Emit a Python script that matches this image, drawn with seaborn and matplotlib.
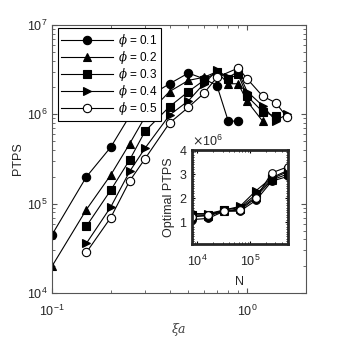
import matplotlib
matplotlib.use('Agg')
import matplotlib.pyplot as plt
import seaborn as sns
import pandas as pd
from matplotlib.ticker import LogLocator, NullFormatter, FixedLocator

# ---- data ----
phi_labels = ['0.1', '0.2', '0.3', '0.4', '0.5']
markers = ['o', '^', 's', '>', 'o']
faces = ['k', 'k', 'k', 'k', 'w']

xi_01 = [0.1, 0.15, 0.2, 0.25, 0.3, 0.4, 0.5, 0.6, 0.7, 0.8, 0.9]
ptps_01 = [4.5e4, 2.0e5, 4.3e5, 9.6e5, 1.5e6, 2.2e6, 2.9e6, 2.5e6, 2.1e6, 8.4e5, 8.4e5]

xi_02 = [0.1, 0.15, 0.2, 0.25, 0.3, 0.4, 0.5, 0.6, 0.7, 0.8, 0.9, 1.0, 1.2]
ptps_02 = [2.0e4, 8.6e4, 2.1e5, 4.7e5, 9.4e5, 1.8e6, 2.4e6, 2.6e6, 3.0e6, 2.2e6, 2.2e6, 1.4e6, 8.4e5]

xi_03 = [0.15, 0.2, 0.25, 0.3, 0.4, 0.5, 0.6, 0.7, 0.8, 0.9, 1.0, 1.2, 1.4]
ptps_03 = [5.6e4, 1.42e5, 3.1e5, 6.5e5, 1.22e6, 1.8e6, 2.4e6, 3.0e6, 2.5e6, 2.8e6, 1.6e6, 1.07e6, 9.5e5]

xi_04 = [0.15, 0.2, 0.25, 0.3, 0.4, 0.5, 0.6, 0.7, 0.8, 0.9, 1.0, 1.2, 1.4, 1.6]
ptps_04 = [3.6e4, 9.2e4, 2.3e5, 4.2e5, 9.8e5, 1.42e6, 2.2e6, 3.1e6, 2.6e6, 3.0e6, 1.8e6, 1.25e6, 8.5e5, 1.0e6]

xi_05 = [0.15, 0.2, 0.25, 0.3, 0.4, 0.5, 0.6, 0.7, 0.9, 1.0, 1.2, 1.4, 1.6]
ptps_05 = [2.85e4, 7.0e4, 1.8e5, 3.2e5, 8.0e5, 1.2e6, 1.72e6, 2.6e6, 3.3e6, 2.5e6, 1.6e6, 1.35e6, 9.3e5]

N = [8e3, 1.6e4, 3.2e4, 6.4e4, 1.28e5, 2.56e5, 5.12e5]
opt_01 = [1.1e6, 1.15e6, 1.45e6, 1.45e6, 1.9e6, 2.7e6, 2.9e6]
opt_02 = [1.25e6, 1.25e6, 1.45e6, 1.55e6, 2.05e6, 2.75e6, 3.0e6]
opt_03 = [1.3e6, 1.3e6, 1.5e6, 1.6e6, 2.15e6, 2.8e6, 3.1e6]
opt_04 = [1.35e6, 1.35e6, 1.5e6, 1.65e6, 2.3e6, 2.85e6, 3.15e6]
opt_05 = [1.2e6, 1.3e6, 1.45e6, 1.5e6, 2.0e6, 3.05e6, 3.3e6]

xis = [xi_01, xi_02, xi_03, xi_04, xi_05]
ptps = [ptps_01, ptps_02, ptps_03, ptps_04, ptps_05]
opts = [opt_01, opt_02, opt_03, opt_04, opt_05]

main = pd.concat([pd.DataFrame({'xi': x, 'PTPS': y, 'phi': p})
                  for x, y, p in zip(xis, ptps, phi_labels)])
inset = pd.concat([pd.DataFrame({'N': N, 'opt': y, 'phi': p})
                   for y, p in zip(opts, phi_labels)])

plt.rcParams['font.family'] = ['Liberation Sans', 'DejaVu Sans']
plt.rcParams['mathtext.fontset'] = 'dejavuserif'
plt.rcParams['xtick.direction'] = 'in'
plt.rcParams['ytick.direction'] = 'in'
plt.rcParams['font.size'] = 8.5

edge = '#555555'
txt = '#262626'
fig = plt.figure(figsize=(3.38, 3.38), dpi=100)
ax = fig.add_axes([0.154, 0.133, 0.751, 0.793])

for p, m, f in zip(phi_labels, markers, faces):
    sub = main[main['phi'] == p]
    sns.lineplot(data=sub, x='xi', y='PTPS', marker=m, color='k',
                 markerfacecolor=f, markeredgecolor='k', markersize=6,
                 markeredgewidth=0.8, lw=0.8, estimator=None, sort=False,
                 label=r'$\phi$ = ' + p, ax=ax)

ax.set_xscale('log')
ax.set_yscale('log')
ax.set_xlim(0.1, 2.0)
ax.set_ylim(1e4, 1e7)
ax.xaxis.set_major_locator(FixedLocator([0.1, 1.0]))
ax.yaxis.set_major_locator(LogLocator(base=10, numticks=10))
ax.xaxis.set_minor_locator(LogLocator(base=10, subs=range(2, 10), numticks=20))
ax.yaxis.set_minor_locator(LogLocator(base=10, subs=range(2, 10), numticks=20))
ax.xaxis.set_minor_formatter(NullFormatter())
ax.yaxis.set_minor_formatter(NullFormatter())
ax.tick_params(which='both', top=True, right=True, colors=edge, labelcolor=txt)
ax.tick_params(which='major', length=3.5, labelsize=9)
ax.tick_params(which='minor', length=2)
ax.tick_params(axis='x', which='major', pad=8)
for s in ax.spines.values():
    s.set_color(edge)
    s.set_linewidth(0.8)
ax.set_xlabel(r'$\xi a$', fontsize=9, color='#404040', labelpad=1)
ax.set_ylabel('PTPS', fontsize=9, labelpad=2, color=txt)

leg = ax.legend(loc='upper left', bbox_to_anchor=(0.022, 0.987), handlelength=4.4,
                fontsize=8.5, frameon=True, fancybox=False, framealpha=1,
                borderpad=0.3, labelspacing=0.0, handletextpad=0.4,
                borderaxespad=0)
leg.get_frame().set_edgecolor('k')
leg.get_frame().set_linewidth(0.8)

# ---- inset ----
axi = fig.add_axes([0.569, 0.278, 0.282, 0.278])
for p, m, f in zip(phi_labels, markers, faces):
    sub = inset[inset['phi'] == p]
    sns.lineplot(data=sub, x='N', y='opt', marker=m, color='k',
                 markerfacecolor=f, markeredgecolor='k', markersize=5.5,
                 markeredgewidth=0.8, lw=0.8, estimator=None, sort=False,
                 legend=False, ax=axi)
axi.set_xscale('log')
axi.set_xlim(8e3, 5.12e5)
axi.set_ylim(0.08e6, 4e6)
axi.set_yticks([1e6, 2e6, 3e6, 4e6])
axi.ticklabel_format(axis='y', style='sci', scilimits=(6, 6), useMathText=True)
axi.xaxis.set_minor_locator(LogLocator(base=10, subs=range(2, 10), numticks=20))
axi.xaxis.set_minor_formatter(NullFormatter())
axi.yaxis.set_minor_locator(FixedLocator([i * 1e5 for i in range(1, 40)]))
axi.tick_params(which='both', top=True, right=True, labelsize=9, labelcolor=txt)
axi.tick_params(which='major', length=2.5)
axi.tick_params(which='minor', length=1.5)
axi.tick_params(axis='x', which='major', pad=7)
for s in axi.spines.values():
    s.set_color('#262626')
    s.set_linewidth(2)
axi.set_xlabel('N', fontsize=9, labelpad=5, color=txt)
axi.set_ylabel('Optimal PTPS', fontsize=9, labelpad=3, color=txt)
axi.yaxis.get_offset_text().set_fontsize(9)
axi.yaxis.get_offset_text().set_color(txt)

fig.savefig('out.png', dpi=100)
